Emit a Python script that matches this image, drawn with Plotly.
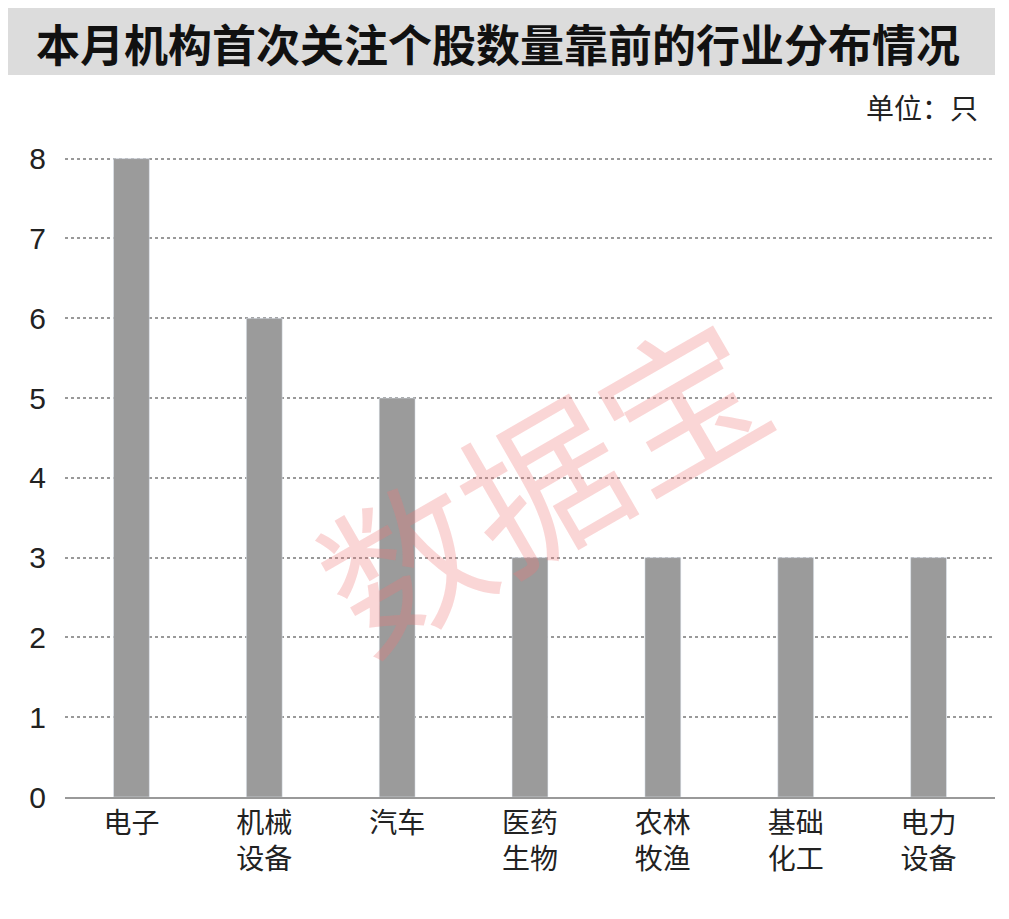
import plotly.graph_objects as go

categories = ["电子", "机械<br>设备", "汽车", "医药<br>生物", "农林<br>牧渔", "基础<br>化工", "电力<br>设备"]
counts = [8, 6, 5, 3, 3, 3, 3]
y_ticks = [0, 1, 2, 3, 4, 5, 6, 7, 8]

font = "Noto Sans CJK SC"

fig = go.Figure(go.Bar(x=categories, y=counts, marker_color="#9b9b9b", width=0.27))

fig.update_layout(
    width=993, height=903,
    margin=dict(l=57, r=6, t=149, b=114, autoexpand=False),
    paper_bgcolor="white", plot_bgcolor="white",
    showlegend=False,
    font=dict(family=font, color="#222"),
)
fig.update_xaxes(
    showline=True, linecolor="#999", linewidth=2, ticks="",
    tickfont=dict(size=28, color="#222"),
)
fig.update_yaxes(
    range=[0, 8.02], tickvals=y_ticks, showgrid=True, gridcolor="#999",
    griddash="dot", gridwidth=1.5, zeroline=False,
    tickfont=dict(size=30, color="#222", family="Liberation Sans"), ticklabelstandoff=18,
)

# title banner
fig.add_shape(type="rect", xref="paper", yref="paper", x0=-0.0645, x1=1.0, y0=1.128, y1=1.233,
              fillcolor="#dcdcdc", line_width=0, layer="below")
fig.add_annotation(text="<b>本月机构首次关注个股数量靠前的行业分布情况</b>", xref="paper", yref="paper",
                   x=0.466, y=1.232, showarrow=False, font=dict(size=44, color="#111"))
fig.add_annotation(text="单位：只", xref="paper", yref="paper", x=0.984, y=1.113,
                   xanchor="right", showarrow=False, font=dict(size=28, color="#222"))
# watermark
fig.add_annotation(text="数据宝", xref="paper", yref="paper", x=0.51, y=0.5, textangle=-30,
                   showarrow=False, font=dict(size=160, color="rgba(240,120,120,0.3)"))

fig.write_html("out.html")
